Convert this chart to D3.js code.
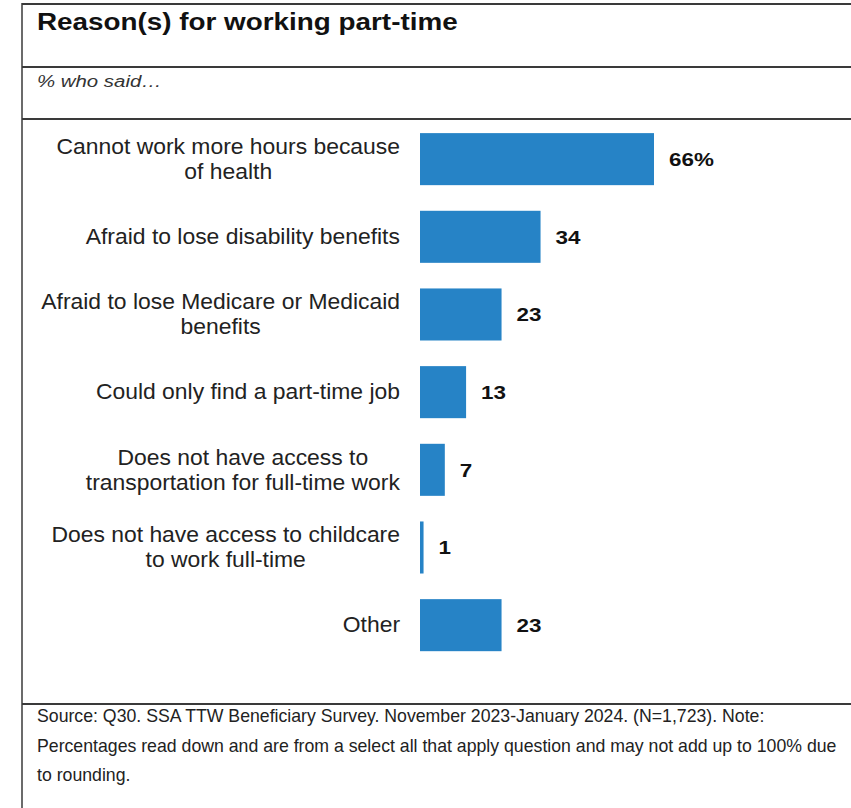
<!DOCTYPE html>
<html>
<head>
<meta charset="utf-8">
<script src="https://cdn.jsdelivr.net/npm/d3@7"></script>
<style>
  html, body { margin: 0; padding: 0; background: #fff; }
  svg { display: block; font-family: Arial, "Liberation Sans", sans-serif; }
</style>
</head>
<body>
<svg id="chart" width="851" height="808"></svg>
<script>
// Survey answers, share of respondents (%)
const categories = [
  ["Cannot work more hours because", "of health"],
  ["Afraid to lose disability benefits"],
  ["Afraid to lose Medicare or Medicaid", "benefits"],
  ["Could only find a part-time job"],
  ["Does not have access to", "transportation for full-time work"],
  ["Does not have access to childcare", "to work full-time"],
  ["Other"]
];
const values = [66, 34, 23, 13, 7, 1, 23];
const valueLabels = ["66%", "34", "23", "13", "7", "1", "23"];

const titleText = "Reason(s) for working part-time";
const subtitleText = "% who said\u2026";
const noteLines = [
  "Source: Q30. SSA TTW Beneficiary Survey. November 2023-January 2024. (N=1,723). Note:",
  "Percentages read down and are from a select all that apply question and may not add up to 100% due",
  "to rounding."
];

const svg = d3.select("#chart");
const W = 851, H = 808;

// text placed at (x, y) and widened horizontally by sx
function wideText(parent, x, y, sx) {
  return parent.append("text").attr("transform", `translate(${x},${y}) scale(${sx},1)`);
}

// frame: left rule plus horizontal separators
const frame = svg.append("g").attr("stroke", "#3a3a3a").attr("fill", "none");
frame.append("line").attr("x1", 22).attr("x2", 22).attr("y1", 3).attr("y2", H).attr("stroke-width", 1.5);
[4, 67, 119, 704].forEach(yy => {
  frame.append("line").attr("x1", 22).attr("x2", W).attr("y1", yy).attr("y2", yy).attr("stroke-width", 1.8);
});

wideText(svg, 37, 30, 1.16)
  .attr("font-size", 24).attr("font-weight", "bold").attr("fill", "#111")
  .text(titleText);

wideText(svg, 37, 87, 1.2)
  .attr("font-size", 17).attr("font-style", "italic").attr("fill", "#333")
  .text(subtitleText);

// scales
const x = d3.scaleLinear().domain([0, 66]).range([420, 654]);
const y = d3.scaleBand().domain(d3.range(values.length))
  .range([120.3, 664]).paddingInner(0.33).paddingOuter(0.165);

svg.append("g").selectAll("rect").data(values).join("rect")
  .attr("x", x(0))
  .attr("y", (d, i) => y(i))
  .attr("width", d => x(d) - x(0))
  .attr("height", y.bandwidth())
  .attr("fill", "#2683C6");

const vg = svg.append("g");
values.forEach((d, i) => {
  wideText(vg, x(d) + 15, y(i) + y.bandwidth() / 2, 1.18)
    .attr("dy", "0.36em")
    .attr("font-size", 19).attr("font-weight", "bold").attr("fill", "#111")
    .text(valueLabels[i]);
});

// category labels: each block right-aligned, lines centred within the block
const labelRight = 400, lineH = 25, labelSx = 1.05;
const lg = svg.append("g");
categories.forEach((lines, i) => {
  const cy = y(i) + y.bandwidth() / 2;
  const t = lg.append("text").attr("font-size", 21.8).attr("fill", "#222").attr("text-anchor", "middle");
  const n = lines.length;
  lines.forEach((ln, k) => {
    t.append("tspan").attr("x", 0)
      .attr("y", cy + (k - (n - 1) / 2) * lineH)
      .attr("dy", "0.33em").text(ln);
  });
  const w = t.node().getBBox().width;
  t.attr("transform", `translate(${labelRight - labelSx * w / 2},0) scale(${labelSx},1)`);
});

const note = svg.append("g");
noteLines.forEach((ln, k) => {
  note.append("text").attr("x", 37).attr("y", 722 + k * 29.5)
    .attr("font-size", 17.7).attr("fill", "#222").text(ln);
});
</script>
</body>
</html>
